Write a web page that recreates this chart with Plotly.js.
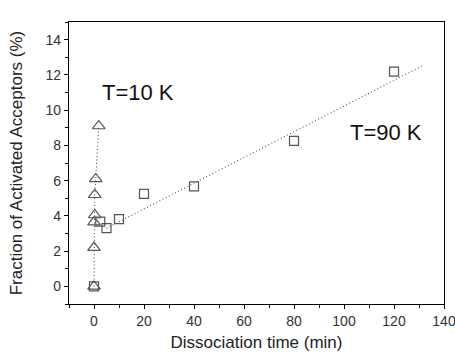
<!DOCTYPE html>
<html>
<head>
<meta charset="utf-8">
<script src="https://cdn.plot.ly/plotly-3.0.1.min.js"></script>
<style>html,body{margin:0;padding:0;background:#fff;}#chart{width:455px;height:362px;overflow:hidden;}</style>
</head>
<body>
<div id="chart"></div>
<script>
// T = 10 K data (triangles)
const t10Time = [0, 0, 0, 0.3, 0.3, 0.7, 1.9];
const t10Frac = [0, 2.2, 3.65, 4.05, 5.2, 6.1, 9.1];
// T = 90 K data (squares)
const t90Time = [0, 2.5, 5, 10, 20, 40, 80, 120];
const t90Frac = [0, 3.67, 3.3, 3.82, 5.25, 5.67, 8.26, 12.19];
// linear fit for T = 90 K
const fitTime = [5, 132];
const fitFrac = [3.3, 12.57];
const labels = ["T=10 K", "T=90 K"];
const labelX = [17.5, 116.7];
const labelY = [11.0, 8.73];

const font = "Liberation Sans, Arial, sans-serif";
const traces = [
  {x: fitTime, y: fitFrac, mode: 'lines', line: {color: '#555', width: 1.1, dash: '1px,2.5px'}, hoverinfo: 'skip'},
  {x: t10Time, y: t10Frac, mode: 'lines', line: {color: '#555', width: 1.1, dash: '1px,2.5px'}, hoverinfo: 'skip'},
  {x: t90Time, y: t90Frac, mode: 'markers', marker: {symbol: 'square-open', size: 9, color: '#555', line: {width: 1.2}}},
  {x: t10Time, y: t10Frac, mode: 'markers', marker: {symbol: 'triangle-up-open', size: 11, color: '#555', line: {width: 1.2}}}
];
const axisCommon = {
  showgrid: false, zeroline: false, showline: true, linecolor: '#000', linewidth: 1.2,
  mirror: true, ticks: 'outside', ticklen: 4, tickwidth: 1, tickcolor: '#000',
  ticklabeloverflow: 'allow',
  tickfont: {family: font, size: 14, color: '#333'}
};
const layout = {
  width: 455, height: 362,
  margin: {l: 69, r: 11, t: 22, b: 58},
  paper_bgcolor: '#fff', plot_bgcolor: '#fff',
  showlegend: false,
  xaxis: Object.assign({}, axisCommon, {
    range: [-10, 140], tick0: 0, dtick: 20,
    minor: {dtick: 10, ticks: 'outside', ticklen: 3, tickcolor: '#000'},
    title: {text: 'Dissociation time (min)', font: {family: font, size: 17, color: '#222'}, standoff: 8}
  }),
  yaxis: Object.assign({}, axisCommon, {
    range: [-1, 15], tick0: 0, dtick: 2,
    minor: {dtick: 1, ticks: 'outside', ticklen: 3, tickcolor: '#000'},
    title: {text: 'Fraction of Activated Acceptors (%)', font: {family: font, size: 17, color: '#222'}, standoff: 18}
  }),
  annotations: labels.map((t, i) => ({
    x: labelX[i], y: labelY[i], text: t, showarrow: false,
    font: {family: font, size: 22, color: '#111'}
  }))
};
Plotly.newPlot('chart', traces, layout, {displayModeBar: false, staticPlot: true});
</script>
</body>
</html>
